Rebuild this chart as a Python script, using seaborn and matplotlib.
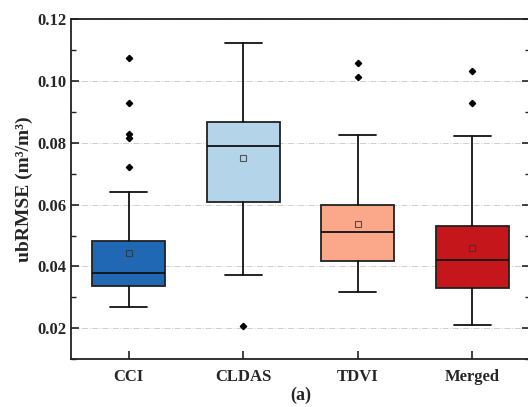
import numpy as np
import pandas as pd
import seaborn as sns
import matplotlib.pyplot as plt
from matplotlib.ticker import MultipleLocator

# box statistics (ubRMSE, m3/m3)
products = ["CCI", "CLDAS", "TDVI", "Merged"]
whislo = [0.0268, 0.0373, 0.0317, 0.0210]
q1 = [0.0336, 0.0610, 0.0417, 0.0330]
med = [0.0378, 0.0789, 0.0510, 0.0420]
q3 = [0.0481, 0.0866, 0.0598, 0.0530]
whishi = [0.0640, 0.1124, 0.0825, 0.0823]
means = [0.0444, 0.0751, 0.0536, 0.0459]
fliers = [
    [0.1075, 0.0930, 0.0827, 0.0814, 0.0722],
    [0.0207],
    [0.1058, 0.1013],
    [0.1031, 0.0930],
]
colors = ["#2068b4", "#b4d4ea", "#fba88a", "#c5161c"]

sns.set_theme(style="ticks")
plt.rcParams["font.family"] = ["Liberation Serif", "DejaVu Serif"]
plt.rcParams["font.weight"] = "bold"

df = pd.DataFrame({"label": products, "whislo": whislo, "q1": q1, "med": med,
                   "q3": q3, "whishi": whishi, "mean": means})
stats = df.to_dict("records")
for s, f in zip(stats, fliers):
    s["fliers"] = np.array(f)

fig = plt.figure(figsize=(5.28, 4.07), dpi=100)
ax = fig.add_axes([0.1354, 0.1172, 0.8676, 0.8361])

ax.yaxis.grid(True, which="major", color="#cfcfcf", linestyle="-.", linewidth=0.7)
ax.set_axisbelow(True)

bp = ax.bxp(stats, positions=range(len(products)), widths=0.64, capwidths=0.32,
            patch_artist=True, showmeans=True, manage_ticks=False,
            boxprops=dict(edgecolor="#222222", linewidth=1.3),
            medianprops=dict(color="#111111", linewidth=1.3),
            whiskerprops=dict(color="#111111", linewidth=1.3),
            capprops=dict(color="#111111", linewidth=1.3),
            meanprops=dict(marker="s", markerfacecolor="none",
                           markeredgecolor="#333333", markersize=4.5,
                           markeredgewidth=0.8, alpha=0.8),
            flierprops=dict(marker="D", markerfacecolor="black",
                            markeredgecolor="black", markersize=3.2))
for patch, c in zip(bp["boxes"], colors):
    patch.set_facecolor(c)

ax.set_xlim(-0.5, 3.5)
ax.set_ylim(0.01, 0.12)
ax.set_xticks(range(len(products)))
ax.set_xticklabels(products)
ax.set_yticks([0.02, 0.04, 0.06, 0.08, 0.10, 0.12])
ax.yaxis.set_minor_locator(MultipleLocator(0.01))
ax.tick_params(axis="both", which="major", direction="in", length=6, width=1.2,
               labelsize=12, color="#222222", right=True, top=False)
ax.tick_params(axis="y", which="minor", direction="in", length=3.5, width=1.0,
               color="#222222", right=True)
ax.tick_params(axis="x", which="major", pad=7)
for lab in ax.get_xticklabels() + ax.get_yticklabels():
    lab.set_fontweight("bold")
for sp in ax.spines.values():
    sp.set_linewidth(1.3)
    sp.set_color("#222222")

ax.set_ylabel("ubRMSE (m³/m³)", fontsize=14, fontweight="bold", labelpad=3)
ax.set_xlabel("(a)", fontsize=13, fontweight="bold", labelpad=1)

fig.savefig("out.png", dpi=100)
